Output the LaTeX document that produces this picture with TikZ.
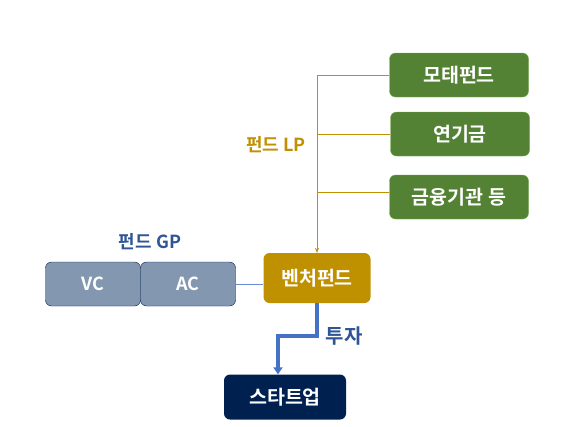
\documentclass[tikz,border=0pt]{standalone}
\usepackage{fontspec}
\usetikzlibrary{arrows.meta}
\setmainfont{Noto Sans CJK KR}[BoldFont={* Bold}]
\definecolor{lpgreen}{HTML}{548235}
\definecolor{lpedge}{HTML}{70AD47}
\definecolor{vfgold}{HTML}{BF9000}
\definecolor{gpfill}{HTML}{8497B0}
\definecolor{navy}{HTML}{002050}
\definecolor{gpblue}{HTML}{2F5597}
\definecolor{invblue}{HTML}{4472C4}
\begin{document}
\begin{tikzpicture}[x=1pt, y=-1pt,
    box/.style={rounded corners=6pt, minimum height=44pt, inner sep=0pt,
                text=white, font=\fontsize{19.5}{22}\selectfont\bfseries},
    lpbox/.style={box, fill=lpgreen, draw=lpedge, minimum width=139pt},
    gpbox/.style={box, fill=gpfill, draw=navy, minimum width=95pt,
                  font=\fontsize{18}{21}\selectfont\bfseries},
    lbl/.style={font=\fontsize{18}{21}\selectfont\bfseries}]
      \useasboundingbox (0,0) rectangle (576,426);
      %
      \node[lpbox] (mother)  at (459, 75)  {모태펀드};   % LP boxes
      \node[lpbox] (pension) at (460, 134) {연기금};
      \node[lpbox] (finance) at (459, 197) {금융기관 등};
      %
      \node[box, fill=vfgold, minimum width=107pt, minimum height=50pt] (venture) at (317, 278) {벤처펀드};
      \node[gpbox] (vc) at (93, 284)  {VC};
      \node[gpbox] (ac) at (188, 284) {AC};
      \node[box, fill=navy, minimum width=122pt, minimum height=45pt] (startup) at (285, 397) {스타트업};
      %
      \coordinate (top) at (317, 75);
      \draw[vfgold, -{Stealth[length=5pt, width=4pt]}] (top) -- (venture.north);
      \draw[vfgold] (top) -- (mother.west);
      \draw[vfgold] (pension.west) -- (pension.west -| top);
      \draw[vfgold] (finance.west |- 0,192) -- (317,192);
      %
      \draw[invblue!80, line width=1pt] (ac.east) -- (ac.east -| venture.west);
      \draw[invblue, line width=3.3pt, -{Triangle[length=7pt, width=9pt]}]
        (venture.south) |- (278,336) -- (startup.north -| 278,0);
      %
      \node[lbl, text=vfgold] (lp) at (276, 145) {펀드 LP};
      \node[lbl, text=gpblue] (gp) at (150, 242) {펀드 GP};
      \node[lbl, text=gpblue, font=\fontsize{20}{22}\selectfont\bfseries] (invest) at (344, 336) {투자};
    \end{tikzpicture}
\end{document}
